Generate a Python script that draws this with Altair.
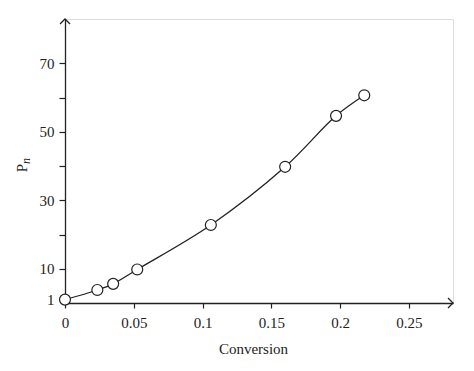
import altair as alt
import pandas as pd

# Data
conversion = [0.0, 0.0235, 0.035, 0.0525, 0.106, 0.160, 0.197, 0.2175]
pn = [1.0, 3.8, 5.6, 9.8, 22.8, 39.8, 54.7, 60.7]

x_ticks = [0, 0.05, 0.1, 0.15, 0.2, 0.25]
y_ticks = [1, 10, 20, 30, 40, 50, 60, 70]
y_labelled = [1, 10, 30, 50, 70]

X_MAX = 0.282
Y_MAX = 83.0

df = pd.DataFrame({"conversion": conversion, "pn": pn})

FONT = "Liberation Serif"
TXT = "#222222"

W, H = 388, 284

xscale = alt.Scale(domain=[0, X_MAX], nice=False, zero=False)
yscale = alt.Scale(domain=[0, Y_MAX], nice=False, zero=False)

label_expr = "indexof([" + ",".join(str(v) for v in y_labelled) + "], datum.value) >= 0 ? datum.label : ''"

base = alt.Chart(df)

line = base.mark_line(interpolate="catmull-rom", color="#222222", strokeWidth=1.3).encode(
    x=alt.X("conversion:Q", scale=xscale,
            axis=alt.Axis(values=x_ticks, title="Conversion", grid=False,
                          domainColor="#222222", domainWidth=1.3,
                          tickColor="#222222", tickSize=5, tickWidth=1.2,
                          labelFont=FONT, labelFontSize=15, labelColor=TXT,
                          labelPadding=7, labelFlush=False,
                          format="~g",
                          titleFont=FONT, titleFontSize=15, titleFontWeight="normal",
                          titleColor=TXT, titleX=188, titlePadding=11)),
    y=alt.Y("pn:Q", scale=yscale,
            axis=alt.Axis(values=y_ticks, title=None, grid=False,
                          domainColor="#222222", domainWidth=1.3,
                          tickColor="#222222", tickSize=6, tickWidth=1.2,
                          labelFont=FONT, labelFontSize=15, labelColor=TXT,
                          labelPadding=5, labelExpr=label_expr)),
)

points = base.mark_point(shape="circle", filled=True, fill="white", stroke="#222222",
                         strokeWidth=1.2, size=120, opacity=1).encode(
    x=alt.X("conversion:Q", scale=xscale),
    y=alt.Y("pn:Q", scale=yscale),
)

arrows_df = pd.DataFrame({"ax": [X_MAX, 0.0], "ay": [0.0, Y_MAX], "ang": [0, 270]})
arrows = alt.Chart(arrows_df).mark_point(
    shape="M-1,-1L0,0L-1,1", filled=False, stroke="#222222", strokeWidth=1.3,
    size=100, opacity=1).encode(
    x=alt.X("ax:Q", scale=xscale),
    y=alt.Y("ay:Q", scale=yscale),
    angle=alt.Angle("ang:Q", scale=None),
)

title_p = alt.Chart(pd.DataFrame({"t": ["P"]})).mark_text(
    font=FONT, fontSize=15, color=TXT, angle=270, align="center", baseline="alphabetic").encode(
    x=alt.value(-38), y=alt.value(149), text="t:N")
title_n = alt.Chart(pd.DataFrame({"t": ["n"]})).mark_text(
    font=FONT, fontSize=12, fontStyle="italic", color=TXT, angle=270, align="center",
    baseline="alphabetic").encode(
    x=alt.value(-35), y=alt.value(142), text="t:N")

chart = alt.layer(line, points, arrows, title_p, title_n).properties(
    width=W, height=H,
    autosize=alt.AutoSizeParams(type="none"),
    padding={"left": 57, "top": 11, "right": 10, "bottom": 60},
).configure_view(stroke=None).configure(background="white")

chart.save("out.html", embed_options={"renderer": "svg", "actions": False})
